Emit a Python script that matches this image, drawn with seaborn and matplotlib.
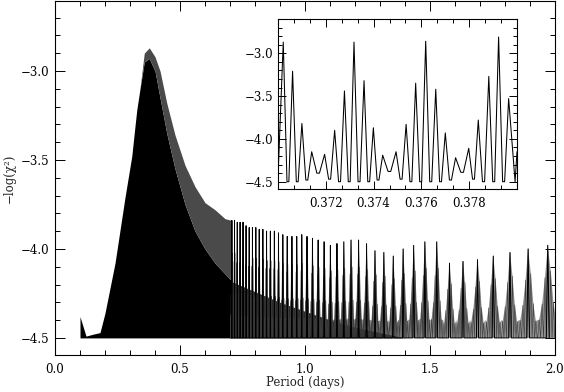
import numpy as np
import pandas as pd
import matplotlib
matplotlib.use("Agg")
import matplotlib.pyplot as plt
import seaborn as sns
from matplotlib.ticker import MultipleLocator, FixedLocator, FuncFormatter

# ---------------- data ----------------
# Inset (zoom on the highest peak): individual peaks and the troughs between them
inset_period = [0.37022, 0.37061, 0.37100, 0.37141, 0.37195, 0.37237, 0.37278,
                0.37318, 0.37360, 0.37399, 0.37438, 0.37494, 0.37536, 0.37576,
                0.37618, 0.37660, 0.37700, 0.37743, 0.37798, 0.37838, 0.37882,
                0.37923, 0.37965]
inset_peak = [-2.87, -3.21, -3.82, -4.15, -4.18, -3.90, -3.44,
              -2.87, -3.32, -3.87, -4.19, -4.15, -3.83, -3.35,
              -2.86, -3.42, -3.93, -4.22, -4.11, -3.78, -3.27,
              -2.81, -3.53]
inset_trough = [-4.50, -4.50, -4.48, -4.40, -4.47, -4.50, -4.50, -4.50, -4.50,
                -4.48, -4.38, -4.47, -4.50, -4.50, -4.50, -4.50, -4.48, -4.39,
                -4.47, -4.50, -4.50, -4.50]
inset_start = [0.37000, -4.45]
inset_end_trough = [0.37992, -4.50]
inset_end = [0.38000, -4.15]
inset_xticks = [0.372, 0.374, 0.376, 0.378]

# Main panel, unresolved short-period part: upper envelope and solid-black level
env_period = [0.100, 0.100, 0.124, 0.150, 0.180, 0.200, 0.240, 0.280, 0.307,
              0.320, 0.327, 0.340, 0.357, 0.377, 0.400, 0.420, 0.447, 0.480,
              0.520, 0.560, 0.600, 0.640, 0.680, 0.707]
env_upper = [-4.50, -4.38, -4.49, -4.48, -4.47, -4.36, -4.08, -3.71, -3.48,
             -3.31, -3.22, -3.10, -2.90, -2.87, -2.92, -3.00, -3.18, -3.36,
             -3.53, -3.65, -3.74, -3.78, -3.83, -3.84]
env_solid = [-4.50, -4.38, -4.49, -4.48, -4.47, -4.36, -4.08, -3.71, -3.48,
             -3.31, -3.22, -3.10, -2.95, -2.93, -3.00, -3.15, -3.35, -3.55,
             -3.75, -3.90, -4.00, -4.08, -4.14, -4.18]

# Main panel, dark floor under the resolved part
floor_period = [0.700, 0.800, 0.900, 1.000, 1.100, 1.200, 1.300, 1.400]
floor_top = [-4.18, -4.24, -4.30, -4.35, -4.40, -4.44, -4.47, -4.50]

# Main panel, resolved alias groups: centre period and peak height
group_period = [0.7074, 0.7181, 0.7291, 0.7405, 0.7522, 0.7644, 0.7769, 0.7898,
                0.8032, 0.8170, 0.8313, 0.8462, 0.8615, 0.8775, 0.8940, 0.9112,
                0.9290, 0.9476, 0.9669, 0.9870, 1.0080, 1.0299, 1.0527, 1.0766,
                1.1016, 1.1278, 1.1553, 1.1841, 1.2144, 1.2463, 1.2799, 1.3154,
                1.3530, 1.3926, 1.4347, 1.4795, 1.5270, 1.5780, 1.6320, 1.6900,
                1.7530, 1.8200, 1.8925, 1.9710]
group_peak = [-3.84, -3.84, -3.85, -3.85, -3.85, -3.87, -3.88, -3.88,
              -3.88, -3.89, -3.89, -3.90, -3.90, -3.90, -3.91, -3.92,
              -3.93, -3.93, -3.93, -3.92, -3.93, -3.94, -3.95, -3.96,
              -3.98, -3.97, -3.96, -3.95, -3.95, -3.97, -4.01, -4.02,
              -4.04, -4.00, -3.98, -3.96, -3.96, -4.08, -4.07, -4.06,
              -4.04, -4.02, -4.00, -3.98]
group_edge = -4.40      # level between neighbouring groups
baseline = -4.50

# ---------------- build line vertices ----------------
ix = [inset_start[0]]
iy = [inset_start[1]]
for i, (p, h) in enumerate(zip(inset_period, inset_peak)):
    ix.append(p); iy.append(h)
    if i < len(inset_trough):
        nxt = inset_period[i + 1]
        ix += [p + 0.4 * (nxt - p), p + 0.6 * (nxt - p)]
        iy += [inset_trough[i], inset_trough[i]]
ix += [inset_end_trough[0], inset_end[0]]
iy += [inset_end_trough[1], inset_end[1]]
inset_df = pd.DataFrame({"period": ix, "chi": iy})

# each resolved alias group carries the fine structure seen in the inset
c = int(np.argmax(inset_peak[4:11])) + 4
P0 = inset_period[c]
tpl_dp = np.array(inset_period[4:11]) - P0
tpl_rel = (np.array(inset_peak[4:11]) - baseline) / (inset_peak[c] - baseline)
gp = np.array(group_period)
mx, my, tents, cx, cy = [], [], [], [], []
for k, (pc, hc) in enumerate(zip(group_period, group_peak)):
    s = (pc / P0) ** 2
    fp = pc + tpl_dp * s
    fh = baseline + tpl_rel * (hc - baseline)
    half = 0.5 * (fp[1] - fp[0])
    left = 0.5 * (gp[k - 1] + pc) if k > 0 else fp[0] - half
    right = 0.5 * (gp[k + 1] + pc) if k < len(gp) - 1 else fp[-1] + 2 * half
    tents.append(([left, left] + list(fp) + [right, right],
                  [baseline, group_edge] + list(fh) + [group_edge, baseline]))
    mx.append(fp[0] - half); my.append(baseline)
    for i in range(len(fp)):
        mx.append(fp[i]); my.append(fh[i])
        tx = 0.5 * (fp[i] + fp[i + 1]) if i < len(fp) - 1 else fp[i] + half
        mx.append(tx); my.append(baseline)
    cx += [pc - half, pc, pc + half]
    cy += [baseline, hc, baseline]
main_df = pd.DataFrame({"period": mx, "chi": my})
centre_df = pd.DataFrame({"period": cx, "chi": cy})

# ---------------- plotting ----------------
sns.set_style("ticks")
plt.rcParams.update({
    "font.family": ["DejaVu Serif"],
    "font.size": 8.5,
    "xtick.direction": "in", "ytick.direction": "in",
    "xtick.top": True, "ytick.right": True,
    "xtick.major.size": 7, "ytick.major.size": 7,
    "xtick.minor.size": 3.5, "ytick.minor.size": 3.5,
    "xtick.major.width": 0.7, "ytick.major.width": 0.7,
    "xtick.minor.width": 0.7, "ytick.minor.width": 0.7,
    "axes.linewidth": 0.8,
    "axes.edgecolor": "black",
    "xtick.color": "black", "ytick.color": "black",
})
minus_fmt = lambda d: FuncFormatter(lambda v, p: f"{v:.{d}f}".replace("-", "\u2212"))

fig = plt.figure(figsize=(5.64, 3.92), dpi=100)
ax = fig.add_axes([55 / 564, 1 - 355 / 392, 500 / 564, 354 / 392])

for tx_, ty_ in tents:
    ax.fill(tx_, ty_, color="#909090", lw=0, zorder=2)
ax.fill_between(floor_period, baseline, floor_top, color="#2a2a2a", lw=0, zorder=2)
ax.fill_between(env_period, baseline, env_solid, color="black", lw=0, zorder=2)
ax.fill_between(env_period, env_solid, env_upper, color="#4a4a4a", lw=0, zorder=2)
sns.lineplot(data=main_df, x="period", y="chi", sort=False, estimator=None,
             color="#3a3a3a", lw=0.4, ax=ax, zorder=3)
sns.lineplot(data=centre_df, x="period", y="chi", sort=False, estimator=None,
             color="black", lw=0.7, ax=ax, zorder=4)

ax.set_xlim(0.0, 2.0)
ax.set_ylim(-4.596, -2.607)
ax.xaxis.set_major_locator(MultipleLocator(0.5))
ax.xaxis.set_minor_locator(MultipleLocator(0.1))
ax.yaxis.set_major_locator(MultipleLocator(0.5))
ax.yaxis.set_minor_locator(MultipleLocator(0.1))
ax.xaxis.set_major_formatter(minus_fmt(1))
ax.yaxis.set_major_formatter(minus_fmt(1))
ax.tick_params(which="both", top=True, right=True, labeltop=False, labelright=False)
ax.tick_params(axis="x", pad=6)
ax.tick_params(axis="y", pad=4)
ax.set_xlabel("Period (days)", labelpad=0)
ax.set_ylabel("\u2212log(\u03c7\u00b2)", labelpad=4)

# inset
axi = fig.add_axes([278 / 564, 1 - 189 / 392, 239 / 564, 170 / 392])
axi.set_facecolor("white")
axi.set_zorder(5)
sns.lineplot(data=inset_df, x="period", y="chi", sort=False, estimator=None,
             color="black", lw=0.75, ax=axi)
axi.set_xlim(0.3700, 0.3800)
axi.set_ylim(-4.585, -2.60)
axi.xaxis.set_major_locator(FixedLocator(inset_xticks))
step = (inset_xticks[1] - inset_xticks[0]) / 3
axi.xaxis.set_minor_locator(FixedLocator(
    [inset_xticks[0] + n * step for n in range(-3, 13)]))
axi.yaxis.set_major_locator(MultipleLocator(0.5))
axi.yaxis.set_minor_locator(MultipleLocator(0.1))
axi.xaxis.set_major_formatter(minus_fmt(3))
axi.yaxis.set_major_formatter(minus_fmt(1))
axi.tick_params(which="both", top=True, right=True, labeltop=False, labelright=False)
axi.tick_params(which="major", length=6)
axi.tick_params(which="minor", length=3)
axi.tick_params(axis="x", pad=6)
axi.set_xlabel("")
axi.set_ylabel("")

fig.savefig("out.png", dpi=100)
